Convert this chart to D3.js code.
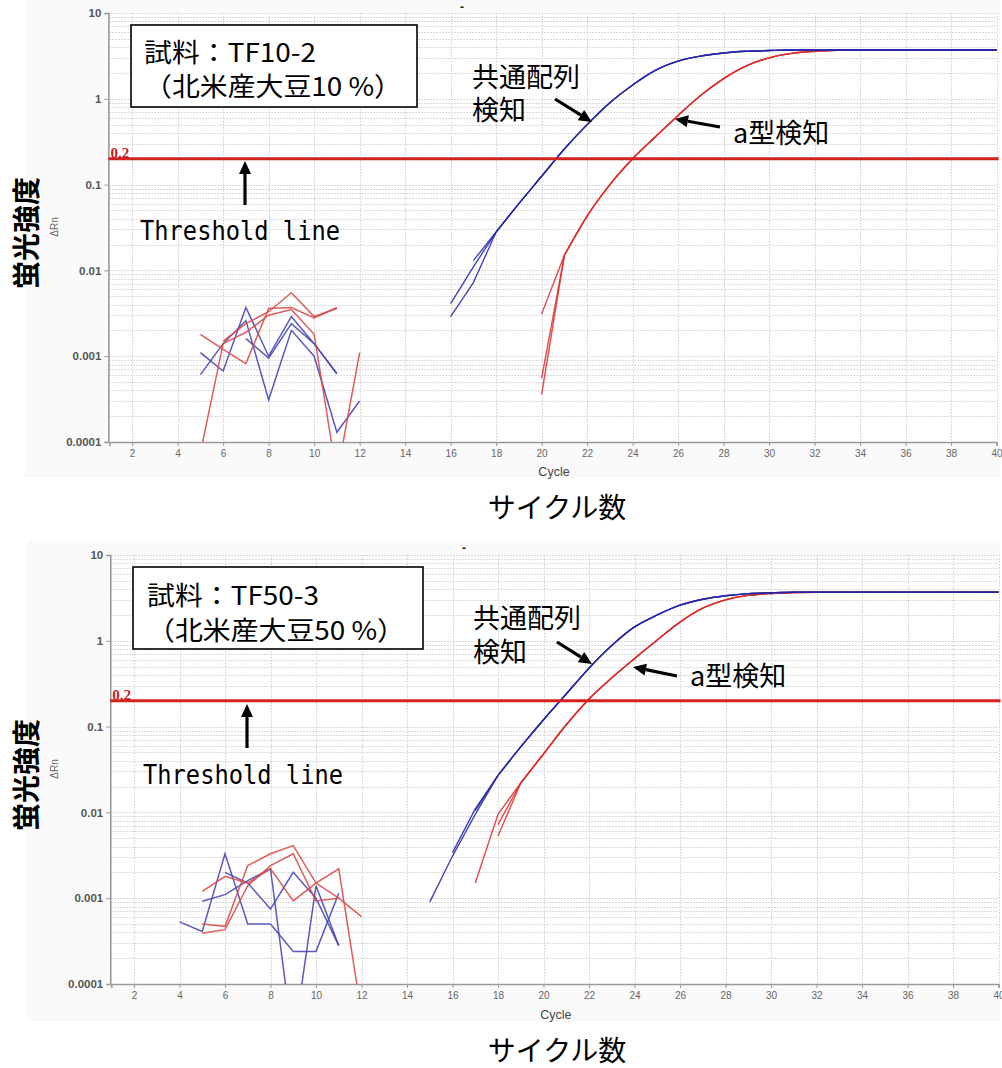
<!DOCTYPE html>
<html lang="ja">
<head>
<meta charset="utf-8">
<title>リアルタイムPCR 増幅曲線</title>
<script src="https://cdn.jsdelivr.net/npm/d3@7"></script>
<style>
  body { margin: 0; background: #fff; }
  svg { display: block; }
</style>
</head>
<body>
<svg id="fig" width="1002" height="1068"></svg>
<script>
// ---------- axis ticks ----------
const cycleTicks = d3.range(2, 41, 2);
const rnTicks = [0.0001, 0.001, 0.01, 0.1, 1, 10];
const rnTickLabels = ["0.0001", "0.001", "0.01", "0.1", "1", "10"];
const thresholdValue = 0.2;

// ---------- 試料 TF10-2 (北米産大豆10 %) ----------
// 共通配列検知 (blue): lead-in points of each well, then the shared rise from cycle 18
const tf10CommonLeads = [
  { from: 16, v: [0.0041, 0.011] },
  { from: 16, v: [0.0029, 0.0072] },
  { from: 17, v: [0.013] }
];
const tf10CommonRiseFrom = 18;
const tf10CommonRise = [0.028, 0.06, 0.125, 0.26, 0.5, 0.9, 1.45, 2.15, 2.75, 3.15, 3.42, 3.58, 3.65,
  3.7, 3.7, 3.7, 3.7, 3.7, 3.7, 3.7, 3.7, 3.7, 3.7];
// a型検知 (red)
const tf10TypeALeads = [
  { from: 20, v: [0.0031] },
  { from: 20, v: [0.00055] },
  { from: 20, v: [0.00036] }
];
const tf10TypeARiseFrom = 21;
const tf10TypeARise = [0.015, 0.043, 0.1, 0.2, 0.36, 0.64, 1.1, 1.72, 2.42, 3.0, 3.38, 3.58, 3.68,
  3.72, 3.72, 3.72, 3.72, 3.72, 3.72, 3.72];
// early-cycle baseline noise
const tf10CommonNoise = [
  { from: 5, v: [0.0011, 0.00067, 0.0037, 0.001, 0.0029, 0.0014, 0.00062] },
  { from: 5, v: [0.00061, 0.0014, 0.0026, 0.00031, 0.002, 0.001, 0.00013, 0.0003] },
  { from: 7, v: [0.0016, 0.00095, 0.0024, 0.0014, 0.00063] }
];
const tf10TypeANoise = [
  { from: 5, v: [0.0018, 0.0012, 0.00082, 0.0036, 0.0037, 0.0028, 0.0037] },
  { from: 5, v: [0.000075, 0.0014, 0.0019, 0.003, 0.0035, 0.0018, 0.00004, 0.0011] },
  { from: 6, v: [0.0015, 0.0024, 0.0033, 0.0055, 0.0029, 0.0036] }
];

// ---------- 試料 TF50-3 (北米産大豆50 %) ----------
const tf50CommonLeads = [
  { from: 15, v: [0.0009, 0.0031, 0.0095] },
  { from: 16, v: [0.0034, 0.011] },
  { from: 17, v: [0.0105] }
];
const tf50CommonRiseFrom = 18;
const tf50CommonRise = [0.027, 0.058, 0.12, 0.24, 0.48, 0.88, 1.45, 2.0, 2.6, 3.05, 3.35, 3.55, 3.63,
  3.68, 3.68, 3.68, 3.68, 3.68, 3.68, 3.68, 3.68, 3.68, 3.68];
const tf50TypeALeads = [
  { from: 17, v: [0.0015, 0.0095] },
  { from: 18, v: [0.0072] },
  { from: 18, v: [0.0053] }
];
const tf50TypeARiseFrom = 19;
const tf50TypeARise = [0.022, 0.048, 0.105, 0.21, 0.37, 0.62, 1.02, 1.65, 2.4, 3.0, 3.38, 3.56, 3.65,
  3.68, 3.68, 3.68, 3.68, 3.68, 3.68, 3.68, 3.68, 3.68];
const tf50CommonNoise = [
  { from: 4, v: [0.00053, 0.00041, 0.0033, 0.0005, 0.0005, 0.00024, 0.00024, 0.00114] },
  { from: 5, v: [0.00092, 0.0011, 0.0016, 0.0022, 0.00002, 0.0014, 0.00028] },
  { from: 6, v: [0.002, 0.0015, 0.00075, 0.002, 0.001, 0.00028] }
];
const tf50TypeANoise = [
  { from: 5, v: [0.0012, 0.0018, 0.0015, 0.0022, 0.00093, 0.0015, 0.0022, 0.000045] },
  { from: 5, v: [0.0005, 0.00047, 0.0024, 0.0033, 0.0041, 0.0015, 0.001, 0.00061] },
  { from: 5, v: [0.00039, 0.00043, 0.0014, 0.0024, 0.0033, 0.00093, 0.001] }
];

// ---------- text ----------
const sampleLines = [
  ["試料：TF10-2", "（北米産大豆10 %）"],
  ["試料：TF50-3", "（北米産大豆50 %）"]
];
const commonLabel = ["共通配列", "検知"];
const typeALabel = "a型検知";
const thresholdLabel = "Threshold line";
const yTitle = "蛍光強度";
const yUnit = "ΔRn";
const xTitle = "Cycle";
const xTitleJa = "サイクル数";

// ---------- layout of the two panels ----------
const panels = [
  {
    id: "p1", lines: sampleLines[0],
    xr: [109.4, 996.6], yr: [442, 13], bg: [25, 0, 975, 478],
    common: { leads: tf10CommonLeads, from: tf10CommonRiseFrom, rise: tf10CommonRise, noise: tf10CommonNoise },
    typeA: { leads: tf10TypeALeads, from: tf10TypeARiseFrom, rise: tf10TypeARise, noise: tf10TypeANoise },
    box: [131, 25, 286, 82], boxText: [144, 62, 96],
    commonText: [472, 87, 120], commonArrow: [555, 99, 592, 122],
    aText: [733, 143], aArrow: [720, 127, 675, 119],
    thrText: [140, 240], thrArrow: [245, 205, 245, 161],
    cycleY: 476, xTitleY: 518, yTitleY: 233, yUnitY: 227, dash: [462, 11]
  },
  {
    id: "p2", lines: sampleLines[1],
    xr: [111.25, 998.5], yr: [984, 555], bg: [27, 540, 973, 482],
    common: { leads: tf50CommonLeads, from: tf50CommonRiseFrom, rise: tf50CommonRise, noise: tf50CommonNoise },
    typeA: { leads: tf50TypeALeads, from: tf50TypeARiseFrom, rise: tf50TypeARise, noise: tf50TypeANoise },
    box: [133, 567, 290, 82], boxText: [147, 605, 640],
    commonText: [473, 628, 662], commonArrow: [557, 642, 592, 664],
    aText: [690, 686], aArrow: [677, 676, 633, 667],
    thrText: [143, 784], thrArrow: [247, 748, 247, 704],
    cycleY: 1019, xTitleY: 1061, yTitleY: 775, yUnitY: 769, dash: [464, 552]
  }
];

const svg = d3.select("#fig");
svg.append("rect").attr("width", 1002).attr("height", 1068).attr("fill", "#fff");

const sansLatin = "'Liberation Sans', Arial, sans-serif";
const sansJa = "'Noto Sans CJK JP', 'Noto Sans', sans-serif";
const monoLatin = "'DejaVu Sans Mono', 'Liberation Mono', monospace";

const BLUE = "#2424a8";
const RED = "#dc2b2b";
const BLUE_NOISE = "#4848b4";
const RED_NOISE = "#d94a4a";

function leadPoints(lead) {
  return lead.v.map((v, i) => [lead.from + i, v]);
}
function risePoints(from, rise) {
  return rise.map((v, i) => [from + i, v]);
}

function arrow(g, x1, y1, x2, y2) {
  const ang = Math.atan2(y2 - y1, x2 - x1);
  const L = 13, W = 6;
  const bx = x2 - L * Math.cos(ang), by = y2 - L * Math.sin(ang);
  g.append("line")
    .attr("x1", x1).attr("y1", y1).attr("x2", bx).attr("y2", by)
    .attr("stroke", "#000").attr("stroke-width", 3.2);
  const px = -Math.sin(ang) * W, py = Math.cos(ang) * W;
  g.append("path")
    .attr("d", `M${x2},${y2}L${bx + px},${by + py}L${bx - px},${by - py}Z`)
    .attr("fill", "#000");
}

panels.forEach(p => {
  const g = svg.append("g");
  const x = d3.scaleLinear().domain([1, 40]).range(p.xr);
  const y = d3.scaleLog().domain([0.0001, 10]).range(p.yr);
  const [x0, x1] = p.xr, [y0, y1] = p.yr;

  // chart background
  g.append("rect").attr("x", p.bg[0]).attr("y", p.bg[1]).attr("width", p.bg[2]).attr("height", p.bg[3])
    .attr("fill", "#fafafa");
  g.append("rect").attr("x", x0 - 1).attr("y", y1).attr("width", x1 - x0 + 3).attr("height", y0 - y1)
    .attr("fill", "#fff");

  // grid: log minor lines and even-cycle verticals
  const grid = g.append("g").attr("stroke", "#cfcfcf").attr("stroke-width", 1).attr("stroke-dasharray", "1.5,1.5");
  const minor = [];
  [0.0001, 0.001, 0.01, 0.1, 1].forEach(d => { for (let m = 1; m <= 9; m++) minor.push(m * d); });
  minor.push(10);
  grid.selectAll("line.h").data(minor).join("line")
    .attr("x1", x0).attr("x2", x1)
    .attr("y1", d => Math.round(y(d)) + 0.5).attr("y2", d => Math.round(y(d)) + 0.5);
  grid.selectAll("line.v").data(cycleTicks).join("line")
    .attr("x1", d => Math.round(x(d)) + 0.5).attr("x2", d => Math.round(x(d)) + 0.5)
    .attr("y1", y1).attr("y2", y0);

  // axes
  const ya = g.append("g").attr("transform", `translate(${x0 - 1},0)`)
    .call(d3.axisLeft(y).tickValues(rnTicks).tickSize(4).tickPadding(3)
      .tickFormat((d, i) => rnTickLabels[i]));
  ya.select(".domain").attr("stroke", "#9a9a9a").attr("stroke-width", 1.6);
  ya.selectAll(".tick line").attr("stroke", "#9a9a9a");
  ya.selectAll(".tick text").attr("font-family", sansLatin).attr("font-size", 11.5)
    .attr("font-weight", "bold").attr("fill", "#555");

  const xa = g.append("g").attr("transform", `translate(0,${y0})`)
    .call(d3.axisBottom(x).tickValues(cycleTicks).tickSize(4).tickPadding(4));
  xa.select(".domain").attr("stroke", "#9a9a9a").attr("stroke-width", 1.6);
  xa.selectAll(".tick line").attr("stroke", "#9a9a9a");
  xa.selectAll(".tick text").attr("font-family", sansLatin).attr("font-size", 10)
    .attr("fill", "#666");

  // clip for the traces
  g.append("clipPath").attr("id", "clip-" + p.id)
    .append("rect").attr("x", x0).attr("y", y1).attr("width", x1 - x0 + 2).attr("height", y0 - y1);
  const traces = g.append("g").attr("clip-path", `url(#clip-${p.id})`).attr("fill", "none");

  const line = d3.line().x(d => x(d[0])).y(d => y(d[1])).defined(d => d[1] > 0);
  const smooth = d3.line().x(d => x(d[0])).y(d => y(d[1])).curve(d3.curveMonotoneX);

  // baseline noise
  p.common.noise.forEach(n => traces.append("path").attr("d", line(leadPoints(n)))
    .attr("stroke", BLUE_NOISE).attr("stroke-width", 1.5).attr("stroke-opacity", 0.9));
  p.typeA.noise.forEach(n => traces.append("path").attr("d", line(leadPoints(n)))
    .attr("stroke", RED_NOISE).attr("stroke-width", 1.5).attr("stroke-opacity", 0.9));

  // amplification curves: straight lead-in segments joined to the smooth rise
  function drawWell(ld, det, color) {
    const lead = leadPoints(ld);
    const rise = risePoints(det.from, det.rise);
    traces.append("path").attr("d", line(lead.concat([rise[0]])))
      .attr("stroke", color).attr("stroke-width", 1.4).attr("stroke-opacity", 0.85);
    traces.append("path").attr("d", smooth(rise))
      .attr("stroke", color).attr("stroke-width", 1.4).attr("stroke-opacity", 0.85);
  }
  p.typeA.leads.forEach(ld => drawWell(ld, p.typeA, RED));
  p.common.leads.forEach(ld => drawWell(ld, p.common, BLUE));

  // threshold
  g.append("line").attr("x1", x0 - 1).attr("x2", x1 + 2)
    .attr("y1", y(thresholdValue)).attr("y2", y(thresholdValue))
    .attr("stroke", "#d42121").attr("stroke-width", 3.2);
  g.append("text").attr("x", x0 + 1).attr("y", y(thresholdValue) - 1)
    .attr("font-family", "'Liberation Serif', 'DejaVu Serif', serif").attr("font-size", 15)
    .attr("font-weight", "bold").attr("fill", "#c42020").text(String(thresholdValue));

  // small mark above the plot
  g.append("text").attr("x", p.dash[0]).attr("y", p.dash[1]).attr("text-anchor", "middle")
    .attr("font-family", sansLatin).attr("font-size", 12).attr("font-weight", "bold")
    .attr("fill", "#222").text("-");

  // axis titles
  g.append("text").attr("x", (p.xr[0] + p.xr[1]) / 2 + 1).attr("y", p.cycleY).attr("text-anchor", "middle")
    .attr("font-family", sansLatin).attr("font-size", 12.5).attr("fill", "#444").text(xTitle);
  g.append("text").attr("x", 557).attr("y", p.xTitleY).attr("text-anchor", "middle")
    .attr("font-family", sansJa).attr("font-size", 28).attr("fill", "#000").text(xTitleJa);
  g.append("text").attr("transform", `translate(25,${p.yTitleY}) rotate(-90)`)
    .attr("text-anchor", "middle").attr("dominant-baseline", "central")
    .attr("font-family", sansJa).attr("font-size", 28).attr("font-weight", 600)
    .attr("fill", "#000").text(yTitle);
  g.append("text").attr("transform", `translate(54,${p.yUnitY}) rotate(-90)`)
    .attr("text-anchor", "middle").attr("dominant-baseline", "central")
    .attr("font-family", sansLatin).attr("font-size", 10).attr("fill", "#666").text(yUnit);

  // sample box
  g.append("rect").attr("x", p.box[0]).attr("y", p.box[1]).attr("width", p.box[2]).attr("height", p.box[3])
    .attr("fill", "#fff").attr("stroke", "#000").attr("stroke-width", 1.6);
  g.append("text").attr("x", p.boxText[0]).attr("y", p.boxText[1])
    .attr("font-family", sansJa).attr("font-size", 26).attr("fill", "#000")
    .attr("textLength", 172).attr("lengthAdjust", "spacingAndGlyphs").text(p.lines[0]);
  g.append("text").attr("x", p.boxText[0]).attr("y", p.boxText[2])
    .attr("font-family", sansJa).attr("font-size", 26).attr("fill", "#000")
    .attr("textLength", 258).attr("lengthAdjust", "spacingAndGlyphs").text(p.lines[1]);

  // curve annotations (two-line label kept in one text element)
  const ann = g.append("g").attr("font-family", sansJa).attr("font-size", 27).attr("fill", "#000");
  const ct = ann.append("text").attr("x", p.commonText[0]).attr("y", p.commonText[1]);
  ct.append("tspan").attr("x", p.commonText[0]).attr("y", p.commonText[1]).text(commonLabel[0]);
  ct.append("tspan").attr("x", p.commonText[0]).attr("y", p.commonText[2]).text(commonLabel[1]);
  ann.append("text").attr("x", p.aText[0]).attr("y", p.aText[1]).text(typeALabel);
  arrow(g, ...p.commonArrow);
  arrow(g, ...p.aArrow);

  g.append("text").attr("x", p.thrText[0]).attr("y", p.thrText[1])
    .attr("font-family", monoLatin).attr("font-size", 26).attr("fill", "#000")
    .attr("textLength", 200).attr("lengthAdjust", "spacingAndGlyphs").text(thresholdLabel);
  arrow(g, ...p.thrArrow);
});
</script>
</body>
</html>
